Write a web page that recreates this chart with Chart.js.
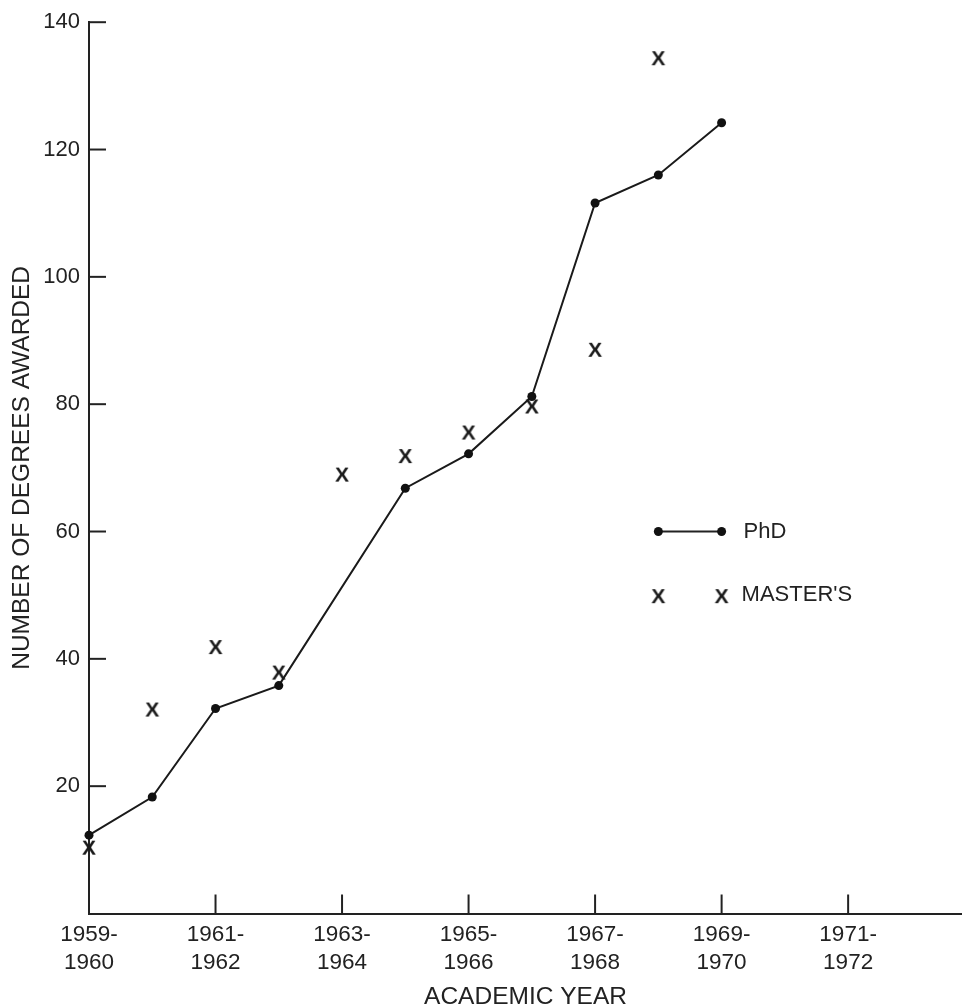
<!DOCTYPE html>
<html>
<head>
<meta charset="utf-8">
<script src="https://cdn.jsdelivr.net/npm/chart.js@4.4.1/dist/chart.umd.min.js"></script>
<style>
html, body { margin: 0; padding: 0; background: #fff; }
canvas { display: block; }
</style>
</head>
<body>
<canvas id="grafico" width="962" height="1007"></canvas>
<script>
// datos (año inicial del curso academico)
var anios = [1959, 1960, 1961, 1962, 1963, 1964, 1965, 1966, 1967, 1968, 1969];
var phd = [12.3, 18.3, 32.2, 35.8, null, 66.8, 72.2, 81.2, 111.6, 116, 124.2];
var masters = [10.5, 32.2, 42, 38, 69.1, 72, 75.7, 79.8, 88.7, 134.5, null];
var ticksY = [20, 40, 60, 80, 100, 120, 140];
var ticksX = [1959, 1961, 1963, 1965, 1967, 1969, 1971];

var FUENTE = '"Liberation Sans", Arial, sans-serif';
var TINTA = '#222';
var ANIO0 = anios[0];

function puntos(serie) {
  var salida = [];
  anios.forEach(function (a, i) {
    salida.push({ x: a - ANIO0, y: serie[i] });
  });
  return salida;
}

// marca tipo "X" para los master
function marcaX() {
  var c = document.createElement('canvas');
  c.width = 16; c.height = 20;
  var ctx = c.getContext('2d');
  ctx.fillStyle = '#1a1a1a';
  ctx.font = 'bold 21px ' + FUENTE;
  ctx.textAlign = 'center';
  ctx.textBaseline = 'alphabetic';
  ctx.fillText('X', 8, 17.5);
  return c;
}
var imgX = marcaX();

// ticks hacia dentro y leyenda dibujada a mano
var extras = {
  id: 'extras',
  afterDatasetsDraw: function (chart) {
    var ctx = chart.ctx;
    var xs = chart.scales.x, ys = chart.scales.y;
    var area = chart.chartArea;
    ctx.save();
    ctx.strokeStyle = '#222';
    ctx.lineWidth = 2;
    ticksY.forEach(function (v) {
      var py = ys.getPixelForValue(v);
      ctx.beginPath(); ctx.moveTo(area.left, py); ctx.lineTo(area.left + 17, py); ctx.stroke();
    });
    ticksX.forEach(function (a) {
      if (a == ANIO0) return;
      var px = xs.getPixelForValue(a - ANIO0);
      ctx.beginPath(); ctx.moveTo(px, area.bottom); ctx.lineTo(px, area.bottom - 19); ctx.stroke();
    });

    var x1 = xs.getPixelForValue(9), x2 = xs.getPixelForValue(10);
    var y1 = ys.getPixelForValue(60), y2 = ys.getPixelForValue(50);
    ctx.lineWidth = 2;
    ctx.beginPath(); ctx.moveTo(x1, y1); ctx.lineTo(x2, y1); ctx.stroke();
    ctx.fillStyle = '#111';
    [x1, x2].forEach(function (px) {
      ctx.beginPath(); ctx.arc(px, y1, 4.5, 0, Math.PI * 2); ctx.fill();
      ctx.drawImage(imgX, px - imgX.width / 2, y2 - imgX.height / 2);
    });
    ctx.fillStyle = TINTA;
    ctx.font = '22px ' + FUENTE;
    ctx.textBaseline = 'middle';
    ctx.textAlign = 'left';
    ctx.fillText('PhD', x2 + 22, y1);
    ctx.fillText("MASTER'S", x2 + 20, y2);
    ctx.restore();
  }
};

new Chart(document.getElementById('grafico'), {
  type: 'line',
  data: {
    datasets: [{
      label: 'PhD',
      data: puntos(phd),
      borderColor: '#1a1a1a',
      backgroundColor: '#111',
      borderWidth: 2,
      pointRadius: 4.5,
      pointBorderWidth: 0,
      spanGaps: true,
      clip: false
    }, {
      label: "MASTER'S",
      data: puntos(masters),
      showLine: false,
      pointStyle: imgX,
      clip: false
    }]
  },
  options: {
    responsive: false,
    animation: false,
    events: [],
    layout: { autoPadding: false, padding: { top: 21, right: 0, left: 0, bottom: 0 } },
    plugins: { legend: { display: false }, tooltip: { enabled: false } },
    scales: {
      x: {
        type: 'linear',
        min: 0,
        max: 13.8,
        afterFit: function (s) { s.height = 93.5; },
        grid: { display: false, drawTicks: false },
        border: { display: true, color: '#222', width: 2 },
        ticks: {
          stepSize: 2,
          includeBounds: false,
          autoSkip: false,
          maxRotation: 0,
          padding: 8,
          color: TINTA,
          font: { family: FUENTE, size: 22.5, lineHeight: 1.22 },
          callback: function (v) {
            var a = v + ANIO0;
            if (ticksX.indexOf(a) < 0) return '';
            return [a + '-', String(a + 1)];
          }
        },
        title: {
          display: true,
          text: 'ACADEMIC YEAR',
          color: TINTA,
          font: { family: FUENTE, size: 24.5, lineHeight: 0.8 },
          padding: { top: 0, bottom: 0 }
        }
      },
      y: {
        min: 0,
        max: 140,
        afterFit: function (s) { s.width = 89; },
        grid: { display: false, drawTicks: false },
        border: { display: true, color: '#222', width: 2 },
        ticks: {
          stepSize: 20,
          padding: 9,
          color: TINTA,
          font: { family: FUENTE, size: 22 },
          callback: function (v) { return ticksY.indexOf(v) < 0 ? '' : v; }
        },
        title: {
          display: true,
          text: 'NUMBER OF DEGREES AWARDED',
          color: TINTA,
          font: { family: FUENTE, size: 24.5, lineHeight: 1 },
          padding: { top: 10, bottom: 0 }
        }
      }
    }
  },
  plugins: [extras]
});
</script>
</body>
</html>
